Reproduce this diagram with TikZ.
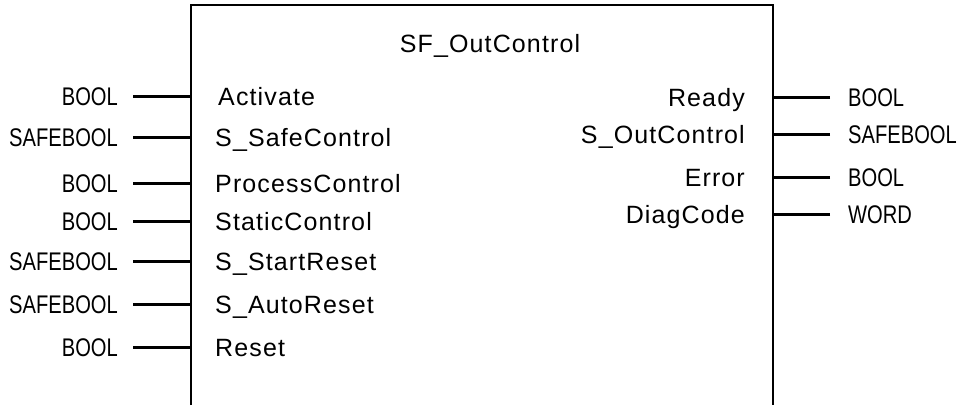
\documentclass[tikz,border=0pt]{standalone}
\usepackage{fontspec}
\setmainfont{Liberation Sans}
\newfontfamily\narrowf[FakeStretch=0.79]{Liberation Sans}
\newfontfamily\pinf[LetterSpace=4.5]{Liberation Sans}
\begin{document}
\begin{tikzpicture}[x=1pt,y=-1pt,
  typel/.style={font=\narrowf\fontsize{25.5}{30}\selectfont, anchor=east, inner xsep=15pt, inner ysep=0pt, text height=18.3pt, text depth=0pt},
  typer/.style={font=\narrowf\fontsize{25.5}{30}\selectfont, anchor=west, inner xsep=18pt, inner ysep=0pt, text height=18.3pt, text depth=0pt},
  pinl/.style={font=\pinf\fontsize{25}{30}\selectfont, anchor=west, inner sep=0pt, text height=18pt, text depth=0pt},
  pinr/.style={font=\pinf\fontsize{25}{30}\selectfont, anchor=east, inner sep=0pt, text height=18pt, text depth=0pt},
  boxline/.style={line width=2pt},
  conn/.style={line width=3pt}]
\useasboundingbox (0,0) rectangle (960,405);
\coordinate (bl) at (191,405);
\coordinate (tl) at (191,5);
\coordinate (tr) at (773,5);
\coordinate (br) at (773,405);
\draw[boxline] (bl) -- (tl) -- (tr) -- (br);
\node[font=\pinf\fontsize{25}{30}\selectfont, inner sep=0pt, text height=18pt, text depth=0pt] (title) at (490,43) {SF\_OutControl};
% left side
\foreach \n/\y/\t/\p/\px in {1/96/BOOL/Activate/218, 2/137/SAFEBOOL/S\_SafeControl/215, 3/183/BOOL/ProcessControl/215, 4/221/BOOL/StaticControl/215, 5/261/SAFEBOOL/S\_StartReset/215, 6/304/SAFEBOOL/S\_AutoReset/215, 7/347/BOOL/Reset/215}{
  \node[typel] (tl\n) at (133,\y) {\t};
  \node[pinl] (pl\n) at (\px,\y) {\p};
  \draw[conn] (tl\n.east) -- (tl\n.east -| tl);
}
% right side
\foreach \n/\y/\t/\p in {1/97/BOOL/Ready, 2/134/SAFEBOOL/S\_OutControl, 3/177/BOOL/Error, 4/214/WORD/DiagCode}{
  \node[typer] (tr\n) at (830,\y) {\t};
  \node[pinr] (pr\n) at (745,\y) {\p};
  \draw[conn] (tr\n.west) -- (tr\n.west -| tr);
}
\end{tikzpicture}
\end{document}
